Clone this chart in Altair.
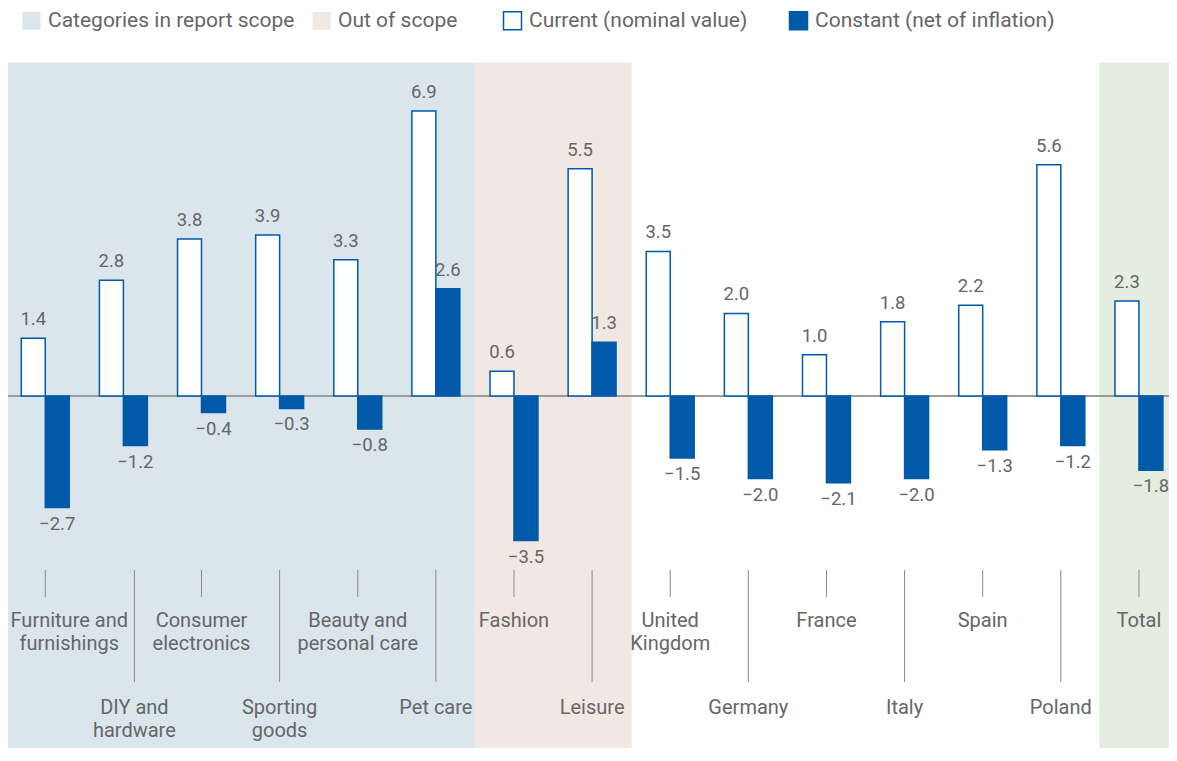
import altair as alt
import pandas as pd

categories = ["Furniture and furnishings", "DIY and hardware", "Consumer electronics",
              "Sporting goods", "Beauty and personal care", "Pet care", "Fashion", "Leisure",
              "United Kingdom", "Germany", "France", "Italy", "Spain", "Poland", "Total"]
axis_labels = ["Furniture and\nfurnishings", "DIY and\nhardware", "Consumer\nelectronics",
               "Sporting\ngoods", "Beauty and\npersonal care", "Pet care", "Fashion", "Leisure",
               "United\nKingdom", "Germany", "France", "Italy", "Spain", "Poland", "Total"]
current = [1.4, 2.8, 3.8, 3.9, 3.3, 6.9, 0.6, 5.5, 3.5, 2.0, 1.0, 1.8, 2.2, 5.6, 2.3]
constant = [-2.7, -1.2, -0.4, -0.3, -0.8, 2.6, -3.5, 1.3, -1.5, -2.0, -2.1, -2.0, -1.3, -1.2, -1.8]
groups = (["Categories in report scope"] * 6 + ["Out of scope"] * 2 + [""] * 6 + ["Total scope"])
series_names = ["Current (nominal value)", "Constant (net of inflation)"]

band_items = ["Categories in report scope", "Out of scope", "Total scope"]
band_colors = ["#DAE6EC", "#F1E8E3", "#E3EEE0"]
series_colors = ["#FFFFFF", "#0059A9"]
BLUE = "#0059A9"

W, H = 1161, 740
FONT = "Roboto"
TXT = "#666666"
X0, X1 = -1.8, 1170
STEP = (X1 - X0) / len(categories)

cat_df = pd.DataFrame({
    "cat": categories,
    "label": axis_labels,
    "group": groups,
    "row": [i % 2 for i in range(len(categories))],
    "idx": list(range(len(categories))),
})

rows = []
for i, c in enumerate(categories):
    for s, v in zip(series_names, (current[i], constant[i])):
        rows.append({"cat": c, "series": s, "value": v,
                     "txt": f"{v:.1f}".replace("-", "\u2212")})
bar_df = pd.DataFrame(rows)

xscale = alt.Scale(domain=categories, range=[X0, X1], paddingInner=0, paddingOuter=0)
xenc = alt.X("cat:N", scale=xscale, axis=None, sort=categories)
xoff = alt.XOffset("series:N", sort=series_names,
                   scale=alt.Scale(domain=series_names, paddingInner=0, paddingOuter=0.63))
yscale = alt.Scale(domain=[-8.523, 9.395], range=[740, 0], nice=False, zero=False)
yenc = alt.Y("value:Q", scale=yscale, axis=None)

common_leg = dict(orient="none", legendY=2, direction="horizontal", title=None,
                  symbolType="square", symbolSize=324, symbolOpacity=1,
                  labelFont=FONT, labelFontSize=21, labelColor=TXT, labelOffset=6, labelLimit=400)
band_leg = alt.Legend(legendX=13, values=band_items[:2], columnPadding=16,
                      symbolStrokeWidth=0, **common_leg)
series_leg = alt.Legend(legendX=494, values=series_names, columnPadding=38,
                        symbolStrokeColor=BLUE, symbolStrokeWidth=1.5, **common_leg)

bands = alt.Chart(cat_df).transform_filter("datum.group != ''").mark_rect(strokeWidth=1).encode(
    x=xenc,
    y=alt.value(55), y2=alt.value(H),
    fill=alt.Fill("group:N", scale=alt.Scale(domain=band_items, range=band_colors), legend=band_leg),
    stroke=alt.Stroke("group:N", scale=alt.Scale(domain=band_items, range=band_colors), legend=None),
)

zero = alt.Chart(bar_df).transform_filter("datum.series == 'Current (nominal value)'").transform_calculate(
    zero="0").mark_rule(color="#9a9a9a", strokeWidth=1.5).encode(
    y=alt.Y("zero:Q", scale=yscale, axis=None), x=alt.value(0), x2=alt.value(W),
)

bars = alt.Chart(bar_df).mark_bar(stroke=BLUE, strokeWidth=1.5).encode(
    x=xenc, xOffset=xoff, y=yenc,
    color=alt.Color("series:N", scale=alt.Scale(domain=series_names, range=series_colors),
                    legend=series_leg),
)

lab_pos = alt.Chart(bar_df).transform_filter("datum.value >= 0").mark_text(
    font=FONT, fontSize=18.5, color=TXT, baseline="alphabetic", dy=-13).encode(
    x=xenc, xOffset=xoff, y=yenc, text="txt:N")
lab_neg = alt.Chart(bar_df).transform_filter("datum.value < 0").mark_text(
    font=FONT, fontSize=18.5, color=TXT, baseline="alphabetic", dy=22).encode(
    x=xenc, xOffset=xoff, y=yenc, text="txt:N")

tick_style = dict(color="#8a8a8a", strokeWidth=1)
tick_short = alt.Chart(cat_df).transform_filter("datum.row == 0").mark_rule(**tick_style).encode(
    x=xenc, y=alt.value(562), y2=alt.value(589))
tick_long = alt.Chart(cat_df).transform_filter("datum.row == 1 && datum.idx != 1").mark_rule(
    **tick_style).encode(x=xenc, y=alt.value(562), y2=alt.value(674))
tick_diy = alt.Chart(cat_df).transform_filter("datum.idx == 1").mark_rule(**tick_style).encode(
    x=xenc, xOffset=alt.XOffset(value=STEP / 2 + 11), y=alt.value(562), y2=alt.value(674))

text_style = dict(font=FONT, fontSize=20, color=TXT, baseline="top", lineBreak="\n", lineHeight=23)
cat_first = alt.Chart(cat_df).transform_filter("datum.idx == 0").mark_text(dx=24, **text_style).encode(
    x=xenc, y=alt.value(603), text="label:N")
cat_top = alt.Chart(cat_df).transform_filter("datum.row == 0 && datum.idx > 0").mark_text(**text_style).encode(
    x=xenc, y=alt.value(603), text="label:N")
cat_diy = alt.Chart(cat_df).transform_filter("datum.idx == 1").mark_text(dx=11, **text_style).encode(
    x=xenc, y=alt.value(690), text="label:N")
cat_bot = alt.Chart(cat_df).transform_filter("datum.row == 1 && datum.idx != 1").mark_text(**text_style).encode(
    x=xenc, y=alt.value(690), text="label:N")

chart = alt.layer(bands, zero, bars, lab_pos, lab_neg, tick_short, tick_long, tick_diy,
                  cat_first, cat_top, cat_diy, cat_bot).properties(
    width=W, height=H, autosize=alt.AutoSizeParams(type="none"), padding=0,
    background="#ffffff",
).configure_view(stroke=None)

chart.save("out.html", embed_options={"renderer": "svg", "actions": False})
